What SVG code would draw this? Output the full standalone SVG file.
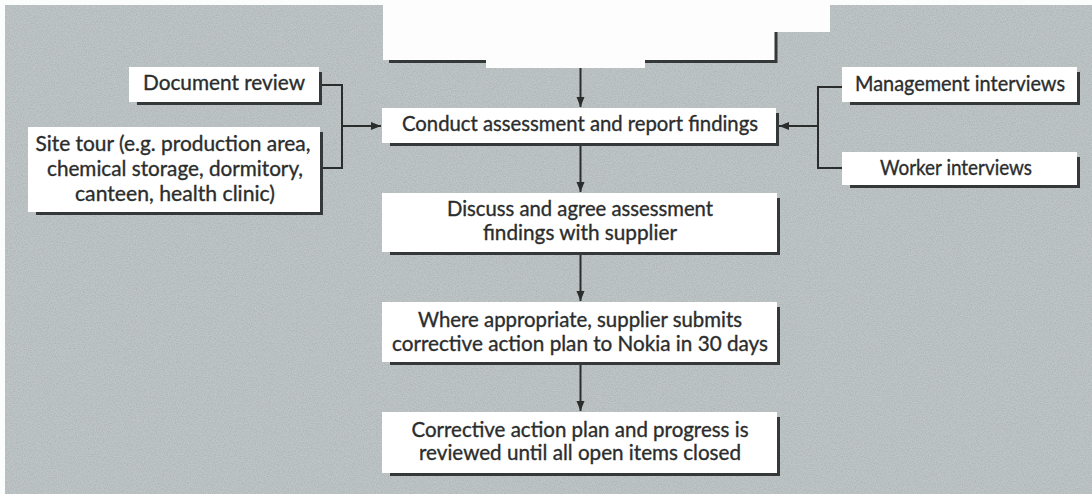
<svg xmlns="http://www.w3.org/2000/svg" width="1092" height="494" viewBox="0 0 1092 494">
  <defs>
    <style>
      .box { fill: #ffffff; }
      .edge { fill: none; stroke: #353838; stroke-width: 3; }
      .lbl { font-family: "Lato", "Liberation Sans", sans-serif; font-size: 21px; fill: #2b2d2d; stroke: #2b2d2d; stroke-width: 0.35; text-anchor: middle; }
      .wire { fill: none; stroke: #2b2d2d; stroke-width: 2; }
    </style>
    <marker id="head" viewBox="0 0 10 10" refX="10" refY="5" markerWidth="10" markerHeight="10" markerUnits="userSpaceOnUse" orient="auto">
      <path d="M0,1 L10,5 L0,9 Z" fill="#2b2d2d"/>
    </marker>
    <!-- speckled halftone texture for the grey ground -->
    <filter id="grain" x="0" y="0" width="100%" height="100%">
      <feTurbulence type="fractalNoise" baseFrequency="0.85" numOctaves="2" seed="7" result="n"/>
      <feColorMatrix in="n" type="matrix" values="0 0 0 0 0.42  0 0 0 0 0.45  0 0 0 0 0.46  1.8 0 0 0 -0.6"/>
    </filter>
  </defs>

  <!-- paper and grey halftone ground -->
  <rect x="0" y="0" width="1092" height="494" fill="#fbfcfc"/>
  <rect x="5" y="5" width="1087" height="489" fill="#bfc6c7"/>
  <rect x="5" y="5" width="1087" height="489" filter="url(#grain)"/>

  <!-- blank heading panel at the top -->
  <g id="top-panel">
    <path d="M383,0 H830 V32 H776 V60 H645 V68 H486 V60 H383 Z" fill="#fdfdfd"/>
    <path class="edge" d="M776,32 V61.5 H645 M486,61.5 H389"/>
  </g>

  <!-- connectors -->
  <g id="connectors">
    <line class="wire" x1="580.5" y1="68" x2="580.5" y2="107" marker-end="url(#head)"/>
    <line class="wire" x1="580.5" y1="146" x2="580.5" y2="192" marker-end="url(#head)"/>
    <line class="wire" x1="580.5" y1="255" x2="580.5" y2="301" marker-end="url(#head)"/>
    <line class="wire" x1="580.5" y1="365" x2="580.5" y2="411" marker-end="url(#head)"/>
    <!-- inputs on the left -->
    <path class="wire" d="M322,85 H342 V168 H322"/>
    <line class="wire" x1="342" y1="126" x2="381" y2="126" marker-end="url(#head)"/>
    <!-- inputs on the right -->
    <path class="wire" d="M842,87 H818 V168 H842"/>
    <line class="wire" x1="818" y1="126" x2="779" y2="126" marker-end="url(#head)"/>
  </g>

  <g id="document-review">
    <rect class="box" x="129" y="67" width="190" height="35"/>
    <path class="edge" d="M320.5,72 V103.5 H137"/>
    <text class="lbl" x="224" y="90" textLength="162" lengthAdjust="spacingAndGlyphs">Document review</text>
  </g>

  <g id="site-tour">
    <rect class="box" x="28" y="127" width="292" height="85"/>
    <path class="edge" d="M321.5,132 V213.5 H36"/>
    <text class="lbl" x="173" y="151" textLength="275" lengthAdjust="spacingAndGlyphs">Site tour (e.g. production area,</text>
    <text class="lbl" x="175" y="176" textLength="256" lengthAdjust="spacingAndGlyphs">chemical storage, dormitory,</text>
    <text class="lbl" x="175" y="201" textLength="200" lengthAdjust="spacingAndGlyphs">canteen, health clinic)</text>
  </g>

  <g id="management-interviews">
    <rect class="box" x="842" y="67" width="235" height="35"/>
    <path class="edge" d="M1078.5,72 V103.5 H850"/>
    <text class="lbl" x="960" y="91" textLength="210" lengthAdjust="spacingAndGlyphs">Management interviews</text>
  </g>

  <g id="worker-interviews">
    <rect class="box" x="842" y="152" width="235" height="33"/>
    <path class="edge" d="M1078.5,157 V186.5 H850"/>
    <text class="lbl" x="956" y="175" textLength="152" lengthAdjust="spacingAndGlyphs">Worker interviews</text>
  </g>

  <g id="conduct-assessment">
    <rect class="box" x="382" y="108" width="394" height="35"/>
    <path class="edge" d="M777.5,113 V144.5 H390"/>
    <text class="lbl" x="580" y="131" textLength="356" lengthAdjust="spacingAndGlyphs">Conduct assessment and report findings</text>
  </g>

  <g id="discuss-findings">
    <rect class="box" x="382" y="193" width="395" height="59"/>
    <path class="edge" d="M778.5,198 V253.5 H390"/>
    <text class="lbl" x="580" y="216" textLength="266" lengthAdjust="spacingAndGlyphs">Discuss and agree assessment</text>
    <text class="lbl" x="580" y="240" textLength="194" lengthAdjust="spacingAndGlyphs">findings with supplier</text>
  </g>

  <g id="corrective-plan">
    <rect class="box" x="382" y="302" width="395" height="60"/>
    <path class="edge" d="M778.5,307 V363.5 H390"/>
    <text class="lbl" x="580" y="327" textLength="324" lengthAdjust="spacingAndGlyphs">Where appropriate, supplier submits</text>
    <text class="lbl" x="580" y="351" textLength="376" lengthAdjust="spacingAndGlyphs">corrective action plan to Nokia in 30 days</text>
  </g>

  <g id="progress-review">
    <rect class="box" x="382" y="412" width="395" height="61"/>
    <path class="edge" d="M778.5,417 V474.5 H390"/>
    <text class="lbl" x="580" y="437" textLength="337" lengthAdjust="spacingAndGlyphs">Corrective action plan and progress is</text>
    <text class="lbl" x="580" y="460" textLength="322" lengthAdjust="spacingAndGlyphs">reviewed until all open items closed</text>
  </g>
</svg>
